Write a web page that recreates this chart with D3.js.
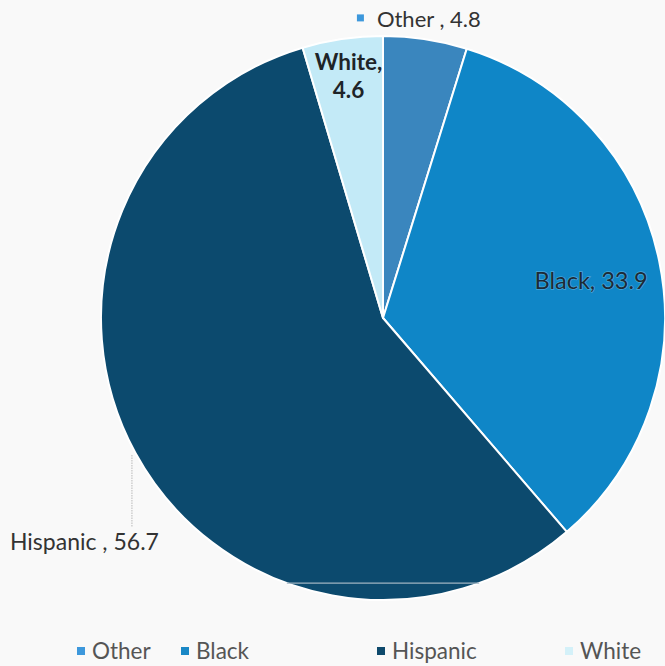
<!DOCTYPE html>
<html>
<head>
<meta charset="utf-8">
<script src="https://cdn.jsdelivr.net/npm/d3@7"></script>
<style>
  html, body { margin: 0; padding: 0; background: #f9f9f9; }
  svg { display: block; font-family: Lato, "Noto Sans", sans-serif; }
</style>
</head>
<body>
<svg id="chart" width="665" height="666"></svg>
<script>
// Share of population by group (percent)
const categories = ["Other", "Black", "Hispanic", "White"];
const values = [4.8, 33.9, 56.7, 4.6];
const sliceColors = ["#3a86be", "#0f86c7", "#0c4a6e", "#c3eaf7"];
const legendColors = ["#3d98dc", "#1a88c6", "#0e4a6c", "#d4f1f9"];

const data = categories.map((c, i) => ({ name: c, value: values[i], color: sliceColors[i] }));

const svg = d3.select("#chart");
const cx = 383, cy = 318, r = 282;

const pie = d3.pie().sort(null).value(d => d.value);
const arcs = pie(data);
const arc = d3.arc().innerRadius(0).outerRadius(r);

const g = svg.append("g").attr("transform", `translate(${cx},${cy})`);

g.selectAll("path.slice")
  .data(arcs)
  .join("path")
  .attr("class", "slice")
  .attr("d", arc)
  .attr("fill", d => d.data.color)
  .attr("stroke", "#ffffff")
  .attr("stroke-width", 2)
  .attr("stroke-linejoin", "round");

// faint horizontal rule across the lower part of the pie
const ry = r * 0.94;
const rx = Math.sqrt(r * r - ry * ry);
g.append("line")
  .attr("x1", -rx).attr("x2", rx)
  .attr("y1", ry).attr("y2", ry)
  .attr("stroke", "#9fb4c2").attr("stroke-width", 1.2);

// point on a circle of radius rr at the slice's mid angle
function midPoint(d, rr) {
  const a = (d.startAngle + d.endAngle) / 2;
  return [rr * Math.sin(a), -rr * Math.cos(a)];
}
const fmt = d3.format(".1f");

// Other: outside label with marker
{
  const d = arcs[0];
  const [x, y] = midPoint(d, r + 17);
  const lg = g.append("g").attr("transform", `translate(${x},${y})`);
  lg.append("rect").attr("x", -71).attr("y", -8).attr("width", 7).attr("height", 7)
    .attr("fill", legendColors[0]);
  lg.append("text").attr("x", -51).attr("y", 5)
    .attr("font-size", 22).attr("fill", "#333")
    .text(`${d.data.name} , ${fmt(d.data.value)}`);
}

// Black: inside label
{
  const d = arcs[1];
  const [x, y] = midPoint(d, r * 0.75);
  g.append("text").attr("x", x + 1).attr("y", y + 14)
    .attr("text-anchor", "middle")
    .attr("font-size", 23.5).attr("fill", "#1c2a36")
    .attr("style", "paint-order: stroke; stroke: rgba(190,225,245,0.35); stroke-width: 1.5px;")
    .text(`${d.data.name}, ${fmt(d.data.value)}`);
}

// White: two-line inside label
{
  const d = arcs[3];
  const [x, y] = midPoint(d, r * 0.875);
  const t = g.append("text").attr("text-anchor", "middle")
    .attr("font-size", 22.5).attr("font-weight", 700).attr("fill", "#1e2428");
  t.append("tspan").attr("x", x + 1).attr("y", y - 4).text(`${d.data.name},`);
  t.append("tspan").attr("x", x + 1).attr("y", y + 24).text(fmt(d.data.value));
}

// Hispanic: outside label with leader line
{
  const d = arcs[2];
  const [x, y] = midPoint(d, r + 4);
  g.append("line")
    .attr("x1", x).attr("x2", x)
    .attr("y1", y).attr("y2", y + 72)
    .attr("stroke", "#b8b8b8").attr("stroke-width", 1)
    .attr("stroke-dasharray", "1.5,1");
  g.append("text").attr("x", x - 122).attr("y", y + 95)
    .attr("font-size", 23).attr("fill", "#333")
    .text(`${d.data.name} , ${fmt(d.data.value)}`);
}

// Legend
const legendX = [77, 181, 377, 565];
const lg = svg.append("g").attr("class", "legend");
categories.forEach((c, i) => {
  const item = lg.append("g").attr("transform", `translate(${legendX[i]},651)`);
  item.append("rect").attr("x", 0).attr("y", -4).attr("width", 8).attr("height", 8)
    .attr("fill", legendColors[i]);
  item.append("text").attr("x", 15).attr("y", 8)
    .attr("font-size", 22.5).attr("fill", "#555")
    .text(c);
});
</script>
</body>
</html>
